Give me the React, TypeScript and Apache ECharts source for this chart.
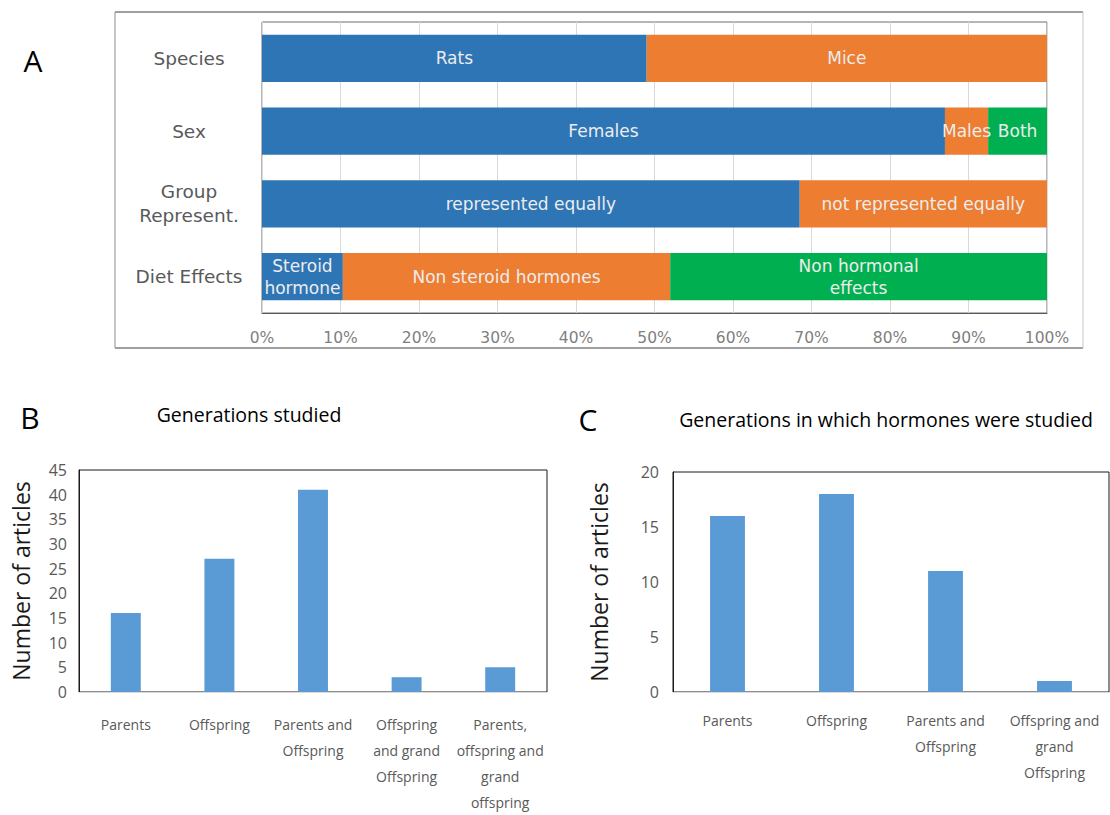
import React, { useEffect, useRef } from "react";
import * as echarts from "echarts";

// Panel A
const aCategories = ["Species", "Sex", "Group\nRepresent.", "Diet Effects"];
const aSeg1Values = [49, 87, 68.5, 10.3];
const aSeg2Values = [51, 5.5, 31.5, 41.7];
const aSeg3Values = [0, 7.5, 0, 48];
const aSeg1Labels = ["Rats", "Females", "represented equally", "Steroid\nhormone"];
const aSeg2Labels = ["Mice", "Males", "not represented equally", "Non steroid hormones"];
const aSeg3Labels = ["", "Both", "", "Non hormonal\neffects"];

// Panel B
const bCategories = [
  "Parents",
  "Offspring",
  "Parents and\nOffspring",
  "Offspring\nand grand\nOffspring",
  "Parents,\noffspring and\ngrand\noffspring",
];
const bValues = [16, 27, 41, 3, 5];

// Panel C
const cCategories = ["Parents", "Offspring", "Parents and\nOffspring", "Offspring and\ngrand\nOffspring"];
const cValues = [16, 18, 11, 1];

const FONT = "'Open Sans', 'Noto Sans', sans-serif";
const WIDE = "'DejaVu Sans', 'Open Sans', sans-serif";
const NARROW = "'Liberation Sans Narrow', 'Open Sans', sans-serif";

export default function App() {
  const ref = useRef<HTMLDivElement>(null);
  useEffect(() => {
    if (!ref.current) return;
    const chart = echarts.init(ref.current, undefined, { renderer: "svg" });
    const segLabel = (labels: string[]) => ({
      show: true,
      position: "inside",
      color: "#ececec",
      fontFamily: WIDE,
      fontSize: 17,
      lineHeight: 22,
      formatter: (p: any) => labels[p.dataIndex],
    });
    const option: any = {
      animation: false,
      backgroundColor: "#ffffff",
      grid: [
        { left: 262, top: 22, width: 785, height: 291, show: true, borderColor: "#6f6f6f", borderWidth: 1 },
        { left: 79, top: 470, width: 468, height: 228, show: true, borderColor: "#1a1a1a", borderWidth: 1 },
        { left: 673, top: 472, width: 436, height: 220, show: true, borderColor: "#1a1a1a", borderWidth: 1 },
      ],
      xAxis: [
        {
          gridIndex: 0,
          type: "value",
          min: 0,
          max: 100,
          interval: 10,
          axisLine: { show: true, lineStyle: { color: "#595959" } },
          axisTick: { show: false },
          splitLine: { show: true, lineStyle: { color: "#d9d9d9" } },
          axisLabel: { formatter: "{value}%", color: "#7f7f7f", fontFamily: WIDE, fontSize: 15.5, margin: 17 },
        },
        {
          gridIndex: 1,
          type: "category",
          data: bCategories,
          axisLine: { show: true, lineStyle: { color: "#d9d9d9" } },
          axisTick: { show: false },
          axisLabel: { interval: 0, color: "#595959", fontFamily: FONT, fontSize: 14, lineHeight: 26, margin: 19, verticalAlign: "top" },
        },
        {
          gridIndex: 2,
          type: "category",
          data: cCategories,
          axisLine: { show: true, lineStyle: { color: "#d9d9d9" } },
          axisTick: { show: false },
          axisLabel: { interval: 0, color: "#595959", fontFamily: FONT, fontSize: 14, lineHeight: 26, margin: 15, verticalAlign: "top" },
        },
      ],
      yAxis: [
        {
          gridIndex: 0,
          type: "category",
          data: aCategories,
          inverse: true,
          axisLine: { show: true, lineStyle: { color: "#d9d9d9" } },
          axisTick: { show: false },
          axisLabel: { color: "#595959", fontFamily: WIDE, fontSize: 18.5, lineHeight: 24, margin: 73, align: "center" },
        },
        {
          gridIndex: 1,
          type: "value",
          min: 0,
          max: 45,
          interval: 5,
          name: "Number of articles",
          nameLocation: "middle",
          nameGap: 47,
          nameTextStyle: { color: "#1a1a1a", fontFamily: FONT, fontSize: 23 },
          axisLine: { show: true, lineStyle: { color: "#1a1a1a" } },
          axisTick: { show: false },
          splitLine: { show: false },
          axisLabel: { color: "#595959", fontFamily: FONT, fontSize: 16, margin: 12 },
        },
        {
          gridIndex: 2,
          type: "value",
          min: 0,
          max: 20,
          interval: 5,
          name: "Number of articles",
          nameLocation: "middle",
          nameGap: 63,
          nameTextStyle: { color: "#1a1a1a", fontFamily: FONT, fontSize: 23 },
          axisLine: { show: true, lineStyle: { color: "#1a1a1a" } },
          axisTick: { show: false },
          splitLine: { show: false },
          axisLabel: { color: "#595959", fontFamily: FONT, fontSize: 16, margin: 14 },
        },
      ],
      series: [
        {
          type: "bar", xAxisIndex: 0, yAxisIndex: 0, stack: "a", data: aSeg1Values,
          barCategoryGap: "35%", itemStyle: { color: "#2E75B6" }, label: segLabel(aSeg1Labels),
        },
        {
          type: "bar", xAxisIndex: 0, yAxisIndex: 0, stack: "a", data: aSeg2Values,
          barCategoryGap: "35%", itemStyle: { color: "#ED7D31" }, label: segLabel(aSeg2Labels),
        },
        {
          type: "bar", xAxisIndex: 0, yAxisIndex: 0, stack: "a", data: aSeg3Values,
          barCategoryGap: "35%", itemStyle: { color: "#00B050" }, label: segLabel(aSeg3Labels),
        },
        {
          type: "bar", xAxisIndex: 1, yAxisIndex: 1, data: bValues,
          barCategoryGap: "68%", itemStyle: { color: "#5B9BD5" },
        },
        {
          type: "bar", xAxisIndex: 2, yAxisIndex: 2, data: cValues,
          barCategoryGap: "68%", itemStyle: { color: "#5B9BD5" },
        },
      ],
      graphic: [
        { type: "line", shape: { x1: 115, y1: 12, x2: 1083, y2: 12 }, style: { stroke: "#404040", lineWidth: 1 } },
        { type: "line", shape: { x1: 115, y1: 348, x2: 1083, y2: 348 }, style: { stroke: "#404040", lineWidth: 1 } },
        { type: "line", shape: { x1: 115, y1: 12, x2: 115, y2: 348 }, style: { stroke: "#8c8c8c", lineWidth: 1 } },
        { type: "line", shape: { x1: 1083, y1: 12, x2: 1083, y2: 348 }, style: { stroke: "#c8c8c8", lineWidth: 1 } },
        { type: "text", x: 33, y: 60, style: { text: "A", fontFamily: NARROW, fontSize: 30, fill: "#000", textAlign: "center", textVerticalAlign: "middle" } },
        { type: "text", x: 30, y: 417, style: { text: "B", fontFamily: NARROW, fontSize: 30, fill: "#000", textAlign: "center", textVerticalAlign: "middle" } },
        { type: "text", x: 588, y: 419, style: { text: "C", fontFamily: NARROW, fontSize: 30, fill: "#000", textAlign: "center", textVerticalAlign: "middle" } },
        { type: "text", x: 249, y: 414, style: { text: "Generations studied", fontFamily: FONT, fontSize: 19.5, fill: "#000", textAlign: "center", textVerticalAlign: "middle" } },
        { type: "text", x: 886, y: 419, style: { text: "Generations in which hormones were studied", fontFamily: FONT, fontSize: 19.5, fill: "#000", textAlign: "center", textVerticalAlign: "middle" } },
      ],
    };
    chart.setOption(option);
    return () => chart.dispose();
  }, []);
  return <div ref={ref} style={{ position: "absolute", left: 0, top: 0, width: 1110, height: 815 }} />;
}
